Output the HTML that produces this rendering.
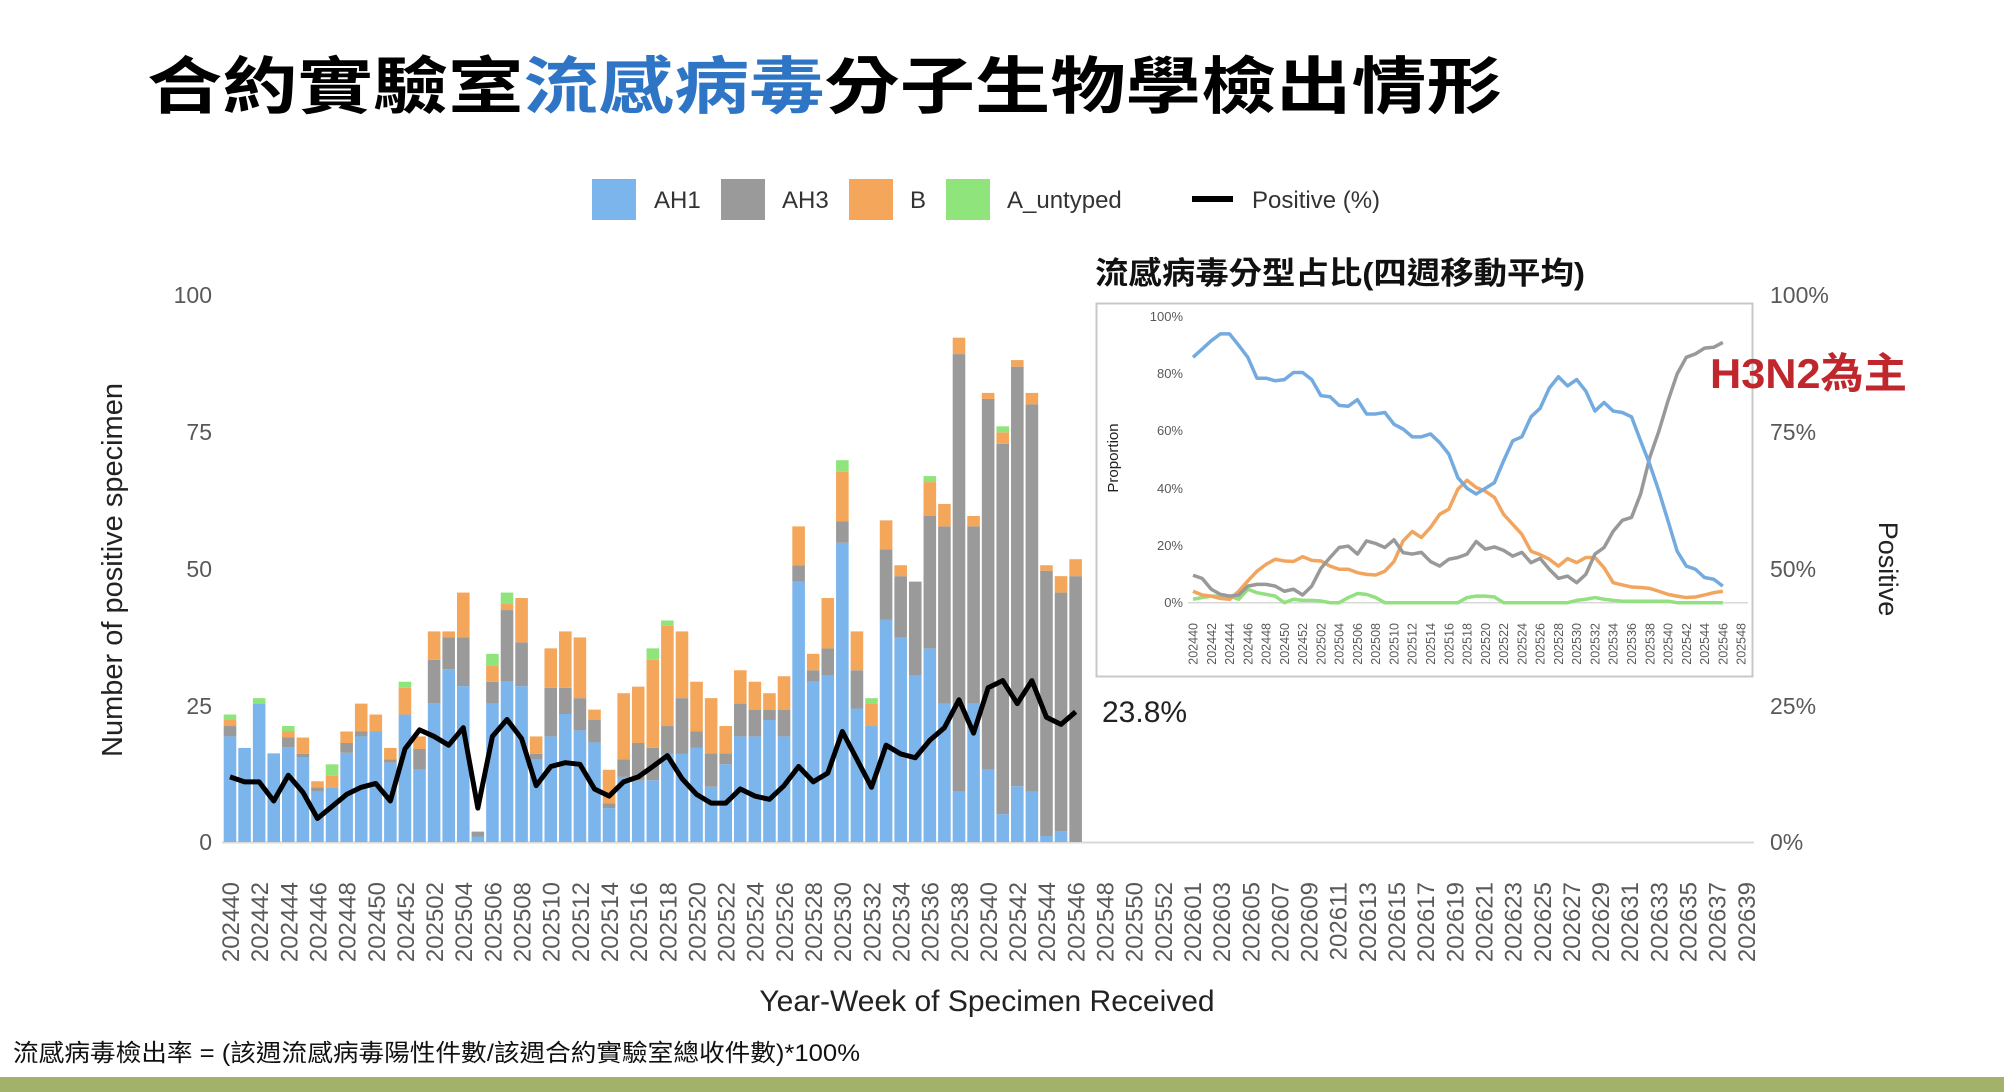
<!DOCTYPE html>
<html><head><meta charset="utf-8"><style>
html,body{margin:0;padding:0;background:#fff;}
svg{display:block;font-family:"Liberation Sans","Noto Sans CJK TC",sans-serif;}
</style></head><body>
<svg id="s" width="2004" height="1092" viewBox="0 0 2004 1092" xmlns="http://www.w3.org/2000/svg">
<rect width="2004" height="1092" fill="#fff"/>
<text x="147" y="108" font-size="62" font-weight="bold" fill="#000" textLength="1355" lengthAdjust="spacingAndGlyphs">合約實驗室<tspan fill="#2e75c5">流感病毒</tspan>分子生物學檢出情形</text>
<!-- legend -->
<rect x="592" y="179" width="44" height="41" fill="#7cb5ec"/>
<rect x="721" y="179" width="44" height="41" fill="#9a9a9a"/>
<rect x="849" y="179" width="44" height="41" fill="#f4a65a"/>
<rect x="946" y="179" width="44" height="41" fill="#90e47c"/>
<rect x="1192" y="196" width="41" height="6" fill="#000"/>
<g font-size="24" fill="#333">
<text x="654" y="208">AH1</text><text x="782" y="208">AH3</text><text x="910" y="208">B</text><text x="1007" y="208">A_untyped</text><text x="1252" y="208">Positive (%)</text>
</g>
<!-- axes labels -->
<g font-size="23" fill="#595959" text-anchor="end">
<text x="212" y="303">100</text><text x="212" y="440">75</text><text x="212" y="577">50</text><text x="212" y="714">25</text><text x="212" y="850">0</text>
</g>
<g font-size="23" fill="#595959">
<text x="1770" y="303">100%</text><text x="1770" y="440">75%</text><text x="1770" y="577">50%</text><text x="1770" y="714">25%</text><text x="1770" y="850">0%</text>
</g>
<text transform="translate(122,570) rotate(-90)" font-size="29" fill="#222" text-anchor="middle">Number of positive specimen</text>
<text transform="translate(1879,569) rotate(90)" font-size="27" fill="#222" text-anchor="middle">Positive</text>
<text x="987" y="1011" font-size="30" fill="#222" text-anchor="middle">Year-Week of Specimen Received</text>
<line x1="222" y1="842.5" x2="1754" y2="842.5" stroke="#d9d9d9" stroke-width="2"/>
<g id="bars"></g>
<polyline id="pos" fill="none" stroke="#000" stroke-width="5" stroke-linejoin="round"/>
<text x="1102" y="722" font-size="30" fill="#222">23.8%</text>
<g id="mt" font-size="24" fill="#595959" text-anchor="end">
<text>202440</text><text>202442</text><text>202444</text><text>202446</text><text>202448</text><text>202450</text><text>202452</text>
<text>202502</text><text>202504</text><text>202506</text><text>202508</text><text>202510</text><text>202512</text><text>202514</text><text>202516</text><text>202518</text><text>202520</text><text>202522</text><text>202524</text><text>202526</text><text>202528</text><text>202530</text><text>202532</text><text>202534</text><text>202536</text><text>202538</text><text>202540</text><text>202542</text><text>202544</text><text>202546</text><text>202548</text><text>202550</text><text>202552</text>
<text>202601</text><text>202603</text><text>202605</text><text>202607</text><text>202609</text><text>202611</text><text>202613</text><text>202615</text><text>202617</text><text>202619</text><text>202621</text><text>202623</text><text>202625</text><text>202627</text><text>202629</text><text>202631</text><text>202633</text><text>202635</text><text>202637</text><text>202639</text>
</g>
<!-- inset -->
<text x="1095" y="284" font-size="31" font-weight="bold" fill="#111" textLength="490" lengthAdjust="spacingAndGlyphs">流感病毒分型占比(四週移動平均)</text>
<rect x="1096.5" y="303.5" width="656" height="373" fill="#fff" stroke="#c8c8c8" stroke-width="2"/>
<g font-size="13" fill="#595959" text-anchor="end">
<text x="1183" y="321">100%</text><text x="1183" y="378">80%</text><text x="1183" y="435">60%</text><text x="1183" y="493">40%</text><text x="1183" y="550">20%</text><text x="1183" y="607">0%</text>
</g>
<line x1="1188" y1="602.7" x2="1748" y2="602.7" stroke="#d9d9d9" stroke-width="1.5"/>
<text transform="translate(1118,458) rotate(-90)" font-size="15" fill="#222" text-anchor="middle">Proportion</text>
<g id="il"></g>
<g id="it" font-size="12.5" fill="#595959" text-anchor="end">
<text>202440</text><text>202442</text><text>202444</text><text>202446</text><text>202448</text><text>202450</text><text>202452</text>
<text>202502</text><text>202504</text><text>202506</text><text>202508</text><text>202510</text><text>202512</text><text>202514</text><text>202516</text><text>202518</text><text>202520</text><text>202522</text><text>202524</text><text>202526</text><text>202528</text><text>202530</text><text>202532</text><text>202534</text><text>202536</text><text>202538</text><text>202540</text><text>202542</text><text>202544</text><text>202546</text><text>202548</text>
</g>
<text x="1710" y="388" font-size="42" font-weight="bold" fill="#c0272d" textLength="197" lengthAdjust="spacingAndGlyphs">H3N2為主</text>
<text x="13" y="1061" font-size="24" fill="#111" textLength="847" lengthAdjust="spacingAndGlyphs">流感病毒檢出率 = (該週流感病毒陽性件數/該週合約實驗室總收件數)*100%</text>
<rect x="0" y="1077" width="2004" height="15" fill="#a3b26a"/>
</svg>
<script>
var NS="http://www.w3.org/2000/svg";
// cumulative tops: blue, gray, orange, green
var D=[[19.3,21.2,22.3,23.3],[17.2,17.2,17.2,17.2],[25.3,25.3,25.3,26.3],[16.2,16.2,16.2,16.2],[17.3,19.1,20.2,21.2],[15.4,16.1,19.1,19.1],[9.2,10,11.1,11.1],[10,10,12.1,14.2],[16.3,18.1,20.2,20.2],[19.3,20.2,25.3,25.3],[20.2,20.2,23.3,23.3],[14.5,15.1,17.2,17.2],[23.3,23.3,28.2,29.3],[13.2,17,19.3,19.3],[25.4,33.3,38.5,38.5],[31.6,37.4,38.5,38.5],[28.5,37.4,45.6,45.6],[1,1.9,1.9,1.9],[25.3,29.3,32.3,34.4],[29.3,42.4,43.5,45.6],[28.5,36.5,44.6,44.6],[15.1,16.1,19.3,19.3],[19.3,28.2,35.4,35.4],[23.4,28.2,38.5,38.5],[20.4,26.3,37.4,37.4],[18.2,22.3,24.2,24.2],[6.2,7.1,13.2,13.2],[11.9,15.1,27.2,27.2],[11.2,18.1,28.4,28.4],[11.3,17.2,33.3,35.4],[16.1,21.2,39.5,40.5],[16.1,26.3,38.5,38.5],[17.2,20.2,29.3,29.3],[10.1,16.2,26.3,26.3],[14.2,16.2,21.2,21.2],[19.3,25.3,31.4,31.4],[19.3,24.2,29.3,29.3],[22.3,24.2,27.2,27.2],[19.3,24.2,30.3,30.3],[47.6,50.6,57.7,57.7],[29.3,31.4,34.4,34.4],[30.4,35.4,44.6,44.6],[54.7,58.6,67.7,69.8],[24.4,31.4,38.5,38.5],[21.2,21.2,25.3,26.3],[40.6,53.5,58.8,58.8],[37.4,48.6,50.6,50.6],[30.4,47.6,47.6,47.6],[35.4,59.6,65.8,66.9],[25.3,57.7,61.8,61.8],[9.2,89.2,92.2,92.2],[25.3,57.7,59.6,59.6],[13.2,81,82.1,82.1],[5.1,72.8,74.9,76],[10.2,86.9,88.1,88.1],[9.2,80,82.1,82.1],[1.1,49.6,50.6,50.6],[2,45.6,48.6,48.6],[0,48.6,51.7,51.7]];
var P=[11.9,11,11,7.5,12.2,9.1,4.3,6.5,8.7,10,10.7,7.5,17,20.5,19.3,17.7,20.9,6.2,19.3,22.4,18.9,10.3,13.8,14.5,14.2,9.7,8.4,11,11.9,13.8,15.8,11.6,8.7,7.1,7.1,9.7,8.4,7.8,10.3,13.8,11,12.6,20.2,15.1,10,17.7,16.1,15.4,18.6,20.9,26,19.9,28.2,29.5,25.3,29.5,22.8,21.5,23.8];
var C=["#7cb5ec","#9a9a9a","#f4a65a","#90e47c"];
var y0=842,k=5.47,sl=14.58,x0=222.7;
var g=document.getElementById("bars");
D.forEach(function(d,i){var prev=0;for(var j=0;j<4;j++){var h=d[j]-prev;if(h>0.05){var r=document.createElementNS(NS,"rect");r.setAttribute("x",x0+i*sl+1);r.setAttribute("width",sl-2);r.setAttribute("y",y0-d[j]*k);r.setAttribute("height",h*k);r.setAttribute("fill",C[j]);g.appendChild(r);}prev=d[j];}});
document.getElementById("pos").setAttribute("points",P.map(function(v,i){return (x0+(i+0.5)*sl)+","+(y0-v*k)}).join(" "));
var mt=document.getElementById("mt").children;
for(var i=0;i<mt.length;i++){mt[i].setAttribute("transform","translate("+(230+i*29.15+9)+",882) rotate(-90)");}
var it=document.getElementById("it").children;
for(var i=0;i<it.length;i++){it[i].setAttribute("transform","translate("+(1193+i*18.27+4.5)+",623) rotate(-90)");}
var BL=[85.8,88.7,91.6,94,94,90,85.8,78.5,78.5,77.6,78,80.5,80.5,78,72.4,72,69,68.7,71,66,66,66.5,62.4,60.7,58,58,59,56,52,43.7,40,38,40,42,49.6,56.6,58,65,68,75,79,75.8,78,74,67,70,67,66.5,65,56.6,48.4,39,28.6,18,12.8,11.7,8.8,8.2,5.8];
var GR=[9.6,8.5,4.7,2.9,2.3,2.7,5.8,6.4,6.4,5.8,4,4.7,2.7,5.8,12,15.8,19.3,19.8,17,21.6,20.7,19.3,22,17.5,17,17.6,14.4,12.8,15.2,15.8,17,21.4,18.7,19.5,18.3,16.3,17.6,14,15.5,11.7,8.5,9.3,7,9.9,17,19.3,25,28.8,29.8,38,50.8,60,70.6,80,85.8,87,89,89.3,91];
var OR=[4,2.7,2.3,1.5,1.2,4,7.6,11,13.4,15.2,14.6,14.4,16.1,14.8,14.6,12.8,11.7,11.7,10.5,9.9,9.7,11,14.4,21.6,24.9,22.8,26.3,30.9,32.7,39.7,42.8,40.3,39,36.8,30.9,27.4,23.9,18,16.8,15.2,12.8,15.4,14,15.8,15.8,12.2,7,6.2,5.5,5.3,5,4,2.9,2.3,1.8,2,2.7,3.5,4];
var GN=[1.2,1.8,2.3,2.3,2.3,1.2,4.7,3.5,2.9,2.3,0,1.2,0.8,0.8,0.6,0,0,1.8,3.2,2.9,1.8,0,0,0,0,0,0,0,0,0,1.8,2.3,2.3,2,0,0,0,0,0,0,0,0,0.8,1.2,1.8,1.2,0.8,0.5,0.5,0.5,0.5,0.5,0.5,0,0,0,0,0,0];
var il=document.getElementById("il");
[[GN,"#92e07f"],[OR,"#f2a55e"],[GR,"#999999"],[BL,"#73abe0"]].forEach(function(s){var p=document.createElementNS(NS,"polyline");p.setAttribute("points",s[0].map(function(v,i){return (1193+i*9.135)+","+(602.7-v*2.86)}).join(" "));p.setAttribute("fill","none");p.setAttribute("stroke",s[1]);p.setAttribute("stroke-width","3.5");p.setAttribute("stroke-linejoin","round");il.appendChild(p);});
</script>
</body></html>
